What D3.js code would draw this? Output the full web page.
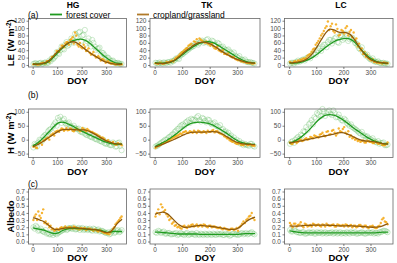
<!DOCTYPE html>
<html>
<head>
<meta charset="utf-8">
<script src="https://cdn.jsdelivr.net/npm/d3@7"></script>
<style>
body { margin: 0; background: #fff; }
svg { font-family: "Liberation Sans", Arial, sans-serif; }
</style>
</head>
<body>
<script>
//Sites (columns) and tick labels
var sites = ["HG", "TK", "LC"];
var panelTags = ["(a)", "(b)", "(c)"];
var doyTicks = [0, 100, 200, 300];
var leTicks = [0, 20, 40, 60, 80, 100, 120];
var hTicks = [-50, 0, 50, 100];
var albTicks = [0, 0.1, 0.2, 0.3, 0.4, 0.5, 0.6, 0.7];

//DOY of the smoothed curves and of the daily observations (two subsamples)
var fitDoy = [1,15,30,45,60,75,90,105,120,135,150,165,180,195,210,225,240,255,270,285,300,315,330,345,365];
var obsDoy = [3,13,23,33,43,53,63,73,83,93,103,113,123,133,143,153,163,173,183,193,203,213,223,233,243,253,263,273,283,293,303,313,323,333,343,353,363];
var obsDoyB = [8,18,28,38,48,58,68,78,88,98,108,118,128,138,148,158,168,178,188,198,208,218,228,238,248,258,268,278,288,298,308,318,328,338,348,358];

//LE (W m-2)
var leFitForestHG = [3,3,3,4,7,14,24,35,45,54,61,66,69,70,68,63,55,46,37,28,20,13,8,5,4];
var leFitCropHG   = [2,2,3,5,9,17,28,38,47,55,61,63,60,53,45,37,30,24,18,12,8,5,3,2,2];
var leObsForestHG = [3,5,2,6,4,7,6,10,16,24,32,40,44,55,52,63,68,85,72,90,80,95,64,58,68,50,44,47,33,27,20,15,11,7,5,4,3];
var leObsCropHG   = [2,3,1,4,6,5,10,15,22,30,36,44,52,58,62,68,75,88,55,60,45,48,40,33,30,26,22,20,16,12,9,6,4,3,2,1,2];
var leObsBForestHG = [4,2,5,3,6,5,12,18,20,35,30,50,42,62,55,72,60,78,88,65,82,58,72,50,60,40,45,28,32,18,20,10,12,5,6,3];
var leObsBCropHG   = [3,1,2,5,4,10,8,22,24,38,36,52,48,62,55,70,58,80,50,48,55,38,45,28,35,20,24,12,15,6,10,4,5,1,3,2];

var leFitForestTK = [6,5,5,6,8,13,21,30,39,47,54,59,62,63,61,56,49,42,35,28,21,15,10,7,5];
var leFitCropTK   = [5,4,4,6,9,14,23,33,42,50,57,61,62,59,54,47,39,32,26,20,15,11,8,6,5];
var leObsForestTK = [6,4,5,7,5,8,11,14,18,25,30,36,42,48,52,58,60,66,62,70,60,64,55,58,48,44,40,36,30,25,20,16,12,9,7,6,4];
var leObsCropTK   = [5,3,6,4,8,7,12,16,22,30,36,44,52,58,64,70,72,66,60,58,52,50,44,40,35,30,28,24,20,16,13,10,8,6,5,4,5];
var leObsBForestTK = [5,7,4,6,8,6,10,18,16,28,34,40,46,50,58,55,64,60,68,58,66,55,60,48,50,40,42,32,34,22,24,14,15,8,8,5];
var leObsBCropTK   = [4,6,3,5,7,10,9,20,26,34,40,46,55,52,62,58,68,62,64,56,58,45,50,38,40,30,32,22,22,15,16,10,9,6,6,4];

var leFitForestLC = [5,5,6,8,11,16,22,30,39,48,56,63,68,71,72,70,63,51,38,27,18,12,8,5,4];
var leFitCropLC   = [6,6,8,10,14,22,35,52,70,87,97,95,90,88,88,83,70,53,37,24,15,10,7,6,5];
var leObsForestLC = [4,6,8,12,10,15,18,22,26,32,40,45,50,55,62,68,65,75,60,80,72,78,70,74,60,52,42,34,25,20,14,10,8,6,5,4,3];
var leObsCropLC   = [8,5,10,12,14,18,20,28,36,45,60,72,85,100,118,105,92,110,80,95,85,105,90,75,68,50,40,30,22,18,12,8,6,5,4,6,5];
var leObsBForestLC = [6,4,7,9,14,12,20,18,30,28,45,38,55,48,68,58,72,62,80,68,85,65,72,68,58,45,48,30,28,16,18,9,10,5,6,4];
var leObsBCropLC   = [6,9,7,11,15,16,25,30,42,55,65,80,92,105,95,112,88,98,82,92,100,80,95,88,72,58,45,35,28,15,16,9,8,6,7,4];

//H (W m-2)
var hFitForestHG = [-22,-15,-5,8,22,36,50,60,63,60,54,48,40,33,27,20,14,8,2,-4,-9,-13,-15,-16,-16];
var hFitCropHG   = [-26,-20,-13,-5,4,13,22,30,35,37,37,36,35,35,35,32,26,19,11,3,-4,-9,-13,-15,-16];
var hObsForestHG = [-28,-18,-10,-2,10,18,30,38,48,62,78,82,70,60,58,50,44,42,38,30,26,22,16,12,8,4,0,-4,-8,-12,-14,-18,-20,-14,-24,-10,-38];
var hObsCropHG   = [-25,-28,-15,-10,-5,2,8,15,22,28,32,35,38,36,34,40,32,36,38,30,42,35,38,30,28,22,18,12,8,2,-5,-8,-12,-15,-18,-15,-20];
var hObsBForestHG = [-15,-25,0,-5,15,12,35,28,55,50,70,60,75,55,62,45,50,38,40,28,35,18,22,10,15,2,8,-5,0,-15,-8,-20,-10,-25,-12,-22];
var hObsBCropHG   = [-20,-30,-10,-18,-2,5,0,18,15,30,28,40,32,42,35,38,30,40,35,32,38,30,34,28,24,20,14,5,6,-5,-2,-12,-8,-18,-12,-15];

var hFitForestTK = [-25,-18,-10,-2,8,18,30,42,52,59,62,63,61,58,53,45,36,27,17,6,-3,-10,-14,-16,-17];
var hFitCropTK   = [-27,-22,-16,-10,-4,3,10,17,23,26,27,27,27,28,29,28,23,15,6,-3,-10,-14,-16,-17,-18];
var hObsForestTK = [-25,-20,-12,-5,0,10,18,28,38,48,55,62,70,75,72,80,70,78,68,72,60,58,50,45,35,28,20,12,2,-5,-10,-15,-20,-18,-22,-15,-25];
var hObsCropTK   = [-30,-22,-18,-12,-8,-2,5,10,15,22,26,30,25,28,32,24,30,26,28,32,28,35,30,25,20,12,5,-2,-8,-12,-15,-18,-20,-16,-18,-20,-22];
var hObsBForestTK = [-22,-15,-8,0,5,12,20,32,40,52,50,65,60,72,68,85,65,75,62,70,55,62,48,52,38,30,25,15,8,0,-5,-12,-15,-20,-15,-22];
var hObsBCropTK   = [-25,-20,-14,-8,-5,0,8,12,18,20,28,24,30,25,28,32,26,30,24,28,32,26,30,22,18,10,4,-5,-6,-15,-12,-18,-14,-20,-16,-22];

var hFitForestLC = [-12,-8,0,10,22,36,52,68,80,88,90,88,82,73,63,52,40,30,20,10,2,-5,-10,-14,-15];
var hFitCropLC   = [-12,-10,-7,-4,-1,2,5,8,11,14,17,20,24,25,22,16,9,2,-3,-5,-6,-8,-11,-14,-16];
var hObsForestLC = [-15,-5,0,10,18,30,45,55,70,80,95,100,110,85,100,92,105,80,90,70,75,60,50,45,38,30,22,15,10,5,0,-5,-10,-15,-12,-20,-18];
var hObsCropLC   = [-10,-15,-5,-8,0,-3,5,2,8,15,10,18,25,12,30,20,35,15,40,28,45,20,10,5,0,-5,-8,-3,-10,-6,-8,-12,-10,-15,-18,-20,-10];
var hObsBForestLC = [-8,-12,5,2,15,28,35,60,55,75,90,85,100,95,105,88,95,82,78,68,70,55,55,42,35,25,28,15,12,2,5,-8,-5,-12,-10,-20];
var hObsBCropLC   = [-15,-8,-12,-2,-5,2,0,10,5,12,8,20,15,28,18,32,25,22,30,38,25,30,15,8,2,-2,-5,-10,-4,-8,-12,-6,-15,-12,-20,-16];

//Albedo
var albFitForestHG = [0.19,0.18,0.17,0.16,0.14,0.12,0.11,0.12,0.15,0.17,0.18,0.185,0.18,0.18,0.175,0.17,0.165,0.165,0.16,0.15,0.13,0.13,0.14,0.14,0.14];
var albFitCropHG   = [0.33,0.32,0.30,0.28,0.24,0.20,0.17,0.17,0.18,0.19,0.19,0.19,0.19,0.185,0.18,0.175,0.17,0.165,0.155,0.14,0.125,0.13,0.18,0.25,0.31];
var albObsForestHG = [0.20,0.22,0.15,0.18,0.14,0.16,0.12,0.10,0.09,0.11,0.12,0.14,0.16,0.18,0.17,0.19,0.18,0.17,0.18,0.16,0.19,0.17,0.16,0.18,0.15,0.17,0.16,0.14,0.15,0.13,0.12,0.10,0.14,0.12,0.15,0.13,0.16];
var albObsCropHG   = [0.30,0.38,0.42,0.33,0.45,0.28,0.25,0.22,0.18,0.16,0.17,0.19,0.18,0.21,0.19,0.20,0.18,0.20,0.19,0.17,0.18,0.19,0.17,0.18,0.16,0.17,0.15,0.16,0.14,0.12,0.11,0.10,0.15,0.20,0.26,0.30,0.35];
var albObsBForestHG = [0.18,0.20,0.16,0.15,0.13,0.11,0.10,0.12,0.12,0.10,0.13,0.15,0.17,0.16,0.19,0.18,0.20,0.17,0.19,0.18,0.16,0.18,0.17,0.16,0.18,0.15,0.17,0.15,0.14,0.12,0.13,0.11,0.15,0.13,0.16,0.14];
var albObsBCropHG   = [0.35,0.30,0.36,0.40,0.26,0.24,0.20,0.17,0.15,0.18,0.16,0.20,0.19,0.18,0.20,0.19,0.21,0.18,0.17,0.19,0.18,0.16,0.18,0.17,0.15,0.16,0.14,0.15,0.13,0.12,0.11,0.13,0.18,0.24,0.28,0.33];

var albFitForestTK = [0.13,0.13,0.125,0.12,0.115,0.11,0.105,0.105,0.105,0.105,0.105,0.10,0.10,0.10,0.10,0.10,0.10,0.10,0.10,0.10,0.10,0.105,0.11,0.11,0.11];
var albFitCropTK   = [0.38,0.40,0.41,0.39,0.34,0.28,0.23,0.20,0.20,0.21,0.22,0.225,0.22,0.215,0.21,0.20,0.19,0.18,0.17,0.17,0.18,0.22,0.27,0.31,0.34];
var albObsForestTK = [0.13,0.15,0.12,0.14,0.11,0.12,0.10,0.11,0.09,0.12,0.10,0.11,0.09,0.11,0.10,0.12,0.09,0.10,0.11,0.09,0.10,0.11,0.09,0.10,0.11,0.09,0.10,0.08,0.11,0.10,0.09,0.11,0.10,0.12,0.11,0.13,0.10];
var albObsCropTK   = [0.35,0.45,0.52,0.42,0.38,0.30,0.25,0.22,0.20,0.19,0.21,0.20,0.22,0.23,0.21,0.24,0.22,0.21,0.23,0.20,0.22,0.21,0.20,0.19,0.18,0.19,0.17,0.16,0.18,0.17,0.15,0.22,0.28,0.30,0.35,0.40,0.30];
var albObsBForestTK = [0.12,0.14,0.13,0.11,0.12,0.10,0.11,0.12,0.10,0.11,0.09,0.12,0.10,0.11,0.09,0.10,0.11,0.09,0.10,0.11,0.09,0.10,0.11,0.10,0.09,0.11,0.10,0.09,0.11,0.10,0.10,0.12,0.11,0.10,0.12,0.11];
var albObsBCropTK   = [0.40,0.38,0.48,0.44,0.35,0.32,0.27,0.23,0.21,0.18,0.22,0.19,0.21,0.24,0.22,0.21,0.23,0.24,0.21,0.22,0.20,0.21,0.19,0.20,0.17,0.18,0.16,0.18,0.16,0.19,0.20,0.25,0.26,0.32,0.36,0.33];

var albFitForestLC = [0.15,0.14,0.13,0.125,0.12,0.12,0.12,0.12,0.12,0.12,0.12,0.12,0.12,0.12,0.12,0.12,0.12,0.12,0.12,0.12,0.12,0.12,0.125,0.13,0.13];
var albFitCropLC   = [0.22,0.215,0.215,0.22,0.225,0.225,0.23,0.23,0.23,0.23,0.225,0.225,0.22,0.22,0.22,0.22,0.215,0.215,0.21,0.205,0.20,0.20,0.205,0.22,0.25];
var albObsForestLC = [0.16,0.14,0.15,0.13,0.12,0.13,0.11,0.13,0.12,0.11,0.13,0.12,0.11,0.13,0.12,0.12,0.11,0.13,0.12,0.11,0.12,0.13,0.11,0.12,0.13,0.11,0.12,0.12,0.11,0.13,0.12,0.11,0.12,0.13,0.14,0.15,0.13];
var albObsCropLC   = [0.26,0.20,0.25,0.23,0.27,0.20,0.24,0.22,0.21,0.24,0.23,0.22,0.24,0.21,0.23,0.22,0.24,0.21,0.23,0.22,0.21,0.23,0.22,0.20,0.22,0.21,0.23,0.20,0.22,0.19,0.21,0.20,0.19,0.22,0.31,0.28,0.24];
var albObsBForestLC = [0.14,0.16,0.13,0.12,0.13,0.11,0.12,0.12,0.13,0.11,0.12,0.13,0.12,0.11,0.12,0.13,0.12,0.11,0.13,0.12,0.11,0.12,0.13,0.12,0.11,0.12,0.13,0.11,0.12,0.12,0.13,0.12,0.11,0.13,0.15,0.14];
var albObsBCropLC   = [0.23,0.25,0.21,0.24,0.22,0.25,0.21,0.23,0.25,0.22,0.24,0.21,0.23,0.25,0.22,0.23,0.21,0.24,0.22,0.23,0.24,0.21,0.23,0.22,0.20,0.23,0.21,0.22,0.20,0.21,0.22,0.19,0.21,0.26,0.33,0.27];

//Colours
var forestPt = "#5cb85a", forestLine = "#1f9a1f";
var cropPt = "#f5a70f", cropLine = "#8f5a0c";

//Panel boxes (pixels)
var colBox = [[28.5, 126.5], [150, 260], [284.5, 393]];
var titleX = [73, 207, 341];
var rowBox = [[18.5, 67], [109, 157.5], [189, 244]];
var rowDom = [[-5.5, 126], [-64, 110], [-0.035, 0.735]];

//Build rows from the arrays
var rows = [
  { ticks: leTicks, fmt: d3.format("d"), label: "LE",
    fit:  [[leFitForestHG, leFitCropHG], [leFitForestTK, leFitCropTK], [leFitForestLC, leFitCropLC]],
    obs:  [[leObsForestHG, leObsCropHG], [leObsForestTK, leObsCropTK], [leObsForestLC, leObsCropLC]],
    obsB: [[leObsBForestHG, leObsBCropHG], [leObsBForestTK, leObsBCropTK], [leObsBForestLC, leObsBCropLC]] },
  { ticks: hTicks, fmt: d3.format("d"), label: "H",
    fit:  [[hFitForestHG, hFitCropHG], [hFitForestTK, hFitCropTK], [hFitForestLC, hFitCropLC]],
    obs:  [[hObsForestHG, hObsCropHG], [hObsForestTK, hObsCropTK], [hObsForestLC, hObsCropLC]],
    obsB: [[hObsBForestHG, hObsBCropHG], [hObsBForestTK, hObsBCropTK], [hObsBForestLC, hObsBCropLC]] },
  { ticks: albTicks, fmt: d3.format(".1f"), label: "Albedo",
    fit:  [[albFitForestHG, albFitCropHG], [albFitForestTK, albFitCropTK], [albFitForestLC, albFitCropLC]],
    obs:  [[albObsForestHG, albObsCropHG], [albObsForestTK, albObsCropTK], [albObsForestLC, albObsCropLC]],
    obsB: [[albObsBForestHG, albObsBCropHG], [albObsBForestTK, albObsBCropTK], [albObsBForestLC, albObsBCropLC]] }
];

//Create SVG element
var svg = d3.select("body").append("svg")
    .attr("width", 397)
    .attr("height", 263);

function styleAxis(g) {
  g.select(".domain").remove();
  g.selectAll(".tick line").attr("stroke", "#333").attr("stroke-width", 0.6);
  g.selectAll(".tick text").attr("fill", "#4d4d4d").style("font-size", "6.5px");
}

rows.forEach(function(row, r) {
  var y = d3.scaleLinear().domain(rowDom[r]).range([rowBox[r][1], rowBox[r][0]]);

  sites.forEach(function(site, c) {
    var x = d3.scaleLinear().domain([-17, 383]).range(colBox[c]);
    var g = svg.append("g");

    //join day-of-year with values for both subsamples
    var forestPts = row.obs[c][0].map(function(v, i) { return [obsDoy[i], v]; })
      .concat(row.obsB[c][0].map(function(v, i) { return [obsDoyB[i], v]; }));
    var cropPts = row.obs[c][1].map(function(v, i) { return [obsDoy[i], v]; })
      .concat(row.obsB[c][1].map(function(v, i) { return [obsDoyB[i], v]; }));

    //forest as hollow circles
    g.selectAll("circle.forest")
      .data(forestPts)
      .enter().append("circle")
      .attr("class", "forest")
      .attr("cx", function(d) { return x(d[0]); })
      .attr("cy", function(d) { return y(d[1]); })
      .attr("r", 2.6)
      .attr("fill", "none")
      .attr("stroke", forestPt)
      .attr("stroke-opacity", 0.5)
      .attr("stroke-width", 0.6);

    //cropland as small dots
    g.selectAll("circle.crop")
      .data(cropPts)
      .enter().append("circle")
      .attr("class", "crop")
      .attr("cx", function(d) { return x(d[0]); })
      .attr("cy", function(d) { return y(d[1]); })
      .attr("r", 1.2)
      .attr("fill", cropPt)
      .attr("fill-opacity", 0.85);

    //smoothed curves
    var line = d3.line()
      .x(function(d, i) { return x(fitDoy[i]); })
      .y(function(d) { return y(d); })
      .curve(d3.curveCatmullRom.alpha(0.5));

    g.append("path").attr("d", line(row.fit[c][0]))
      .attr("fill", "none").attr("stroke", forestLine).attr("stroke-width", 1.3);
    g.append("path").attr("d", line(row.fit[c][1]))
      .attr("fill", "none").attr("stroke", cropLine).attr("stroke-width", 1.3);

    //panel border
    g.append("rect")
      .attr("x", colBox[c][0]).attr("y", rowBox[r][0])
      .attr("width", colBox[c][1] - colBox[c][0])
      .attr("height", rowBox[r][1] - rowBox[r][0])
      .attr("fill", "none").attr("stroke", "#666").attr("stroke-width", 0.8);

    //axes
    svg.append("g")
      .attr("transform", "translate(" + colBox[c][0] + ",0)")
      .call(d3.axisLeft(y).tickValues(row.ticks).tickFormat(row.fmt).tickSize(2).tickPadding(1.5))
      .call(styleAxis);
    svg.append("g")
      .attr("transform", "translate(0," + rowBox[r][1] + ")")
      .call(d3.axisBottom(x).tickValues(doyTicks).tickSize(2).tickPadding(1))
      .call(styleAxis);

    //DOY title
    svg.append("text")
      .attr("x", (colBox[c][0] + colBox[c][1]) / 2)
      .attr("y", rowBox[r][1] + 17)
      .attr("text-anchor", "middle")
      .style("font-size", "9.5px").style("font-weight", "bold")
      .text("DOY");
  });

  //panel tag
  svg.append("text")
    .attr("x", 28).attr("y", r == 0 ? 17.5 : rowBox[r][0] - (r == 1 ? 11 : 2))
    .style("font-size", "8.5px")
    .text(panelTags[r]);

  //y axis title
  var yl = svg.append("text")
    .attr("transform", "translate(14," + (rowBox[r][0] + rowBox[r][1]) / 2 + ") rotate(-90)")
    .attr("text-anchor", "middle")
    .style("font-size", "9.5px").style("font-weight", "bold");
  if (row.label == "Albedo") {
    yl.text("Albedo");
  } else {
    yl.append("tspan").text(row.label + " (W m");
    yl.append("tspan").attr("dy", -3.5).style("font-size", "6.5px").text("-2");
    yl.append("tspan").attr("dy", 3.5).text(")");
  }
});

//site titles
sites.forEach(function(s, c) {
  svg.append("text")
    .attr("x", titleX[c]).attr("y", 7.8)
    .attr("text-anchor", "middle")
    .style("font-size", "8.5px").style("font-weight", "bold")
    .text(s);
});

//legend
var legend = [
  { name: "forest cover", color: forestLine, x: 50 },
  { name: "cropland/grassland", color: "#b07a2a", x: 137 }
];
legend.forEach(function(d) {
  svg.append("line")
    .attr("x1", d.x).attr("x2", d.x + 12)
    .attr("y1", 14.5).attr("y2", 14.5)
    .attr("stroke", d.color).attr("stroke-width", 1.8);
  svg.append("text")
    .attr("x", d.x + 16).attr("y", 17.8)
    .style("font-size", "8.5px")
    .text(d.name);
});
</script>
</body>
</html>
